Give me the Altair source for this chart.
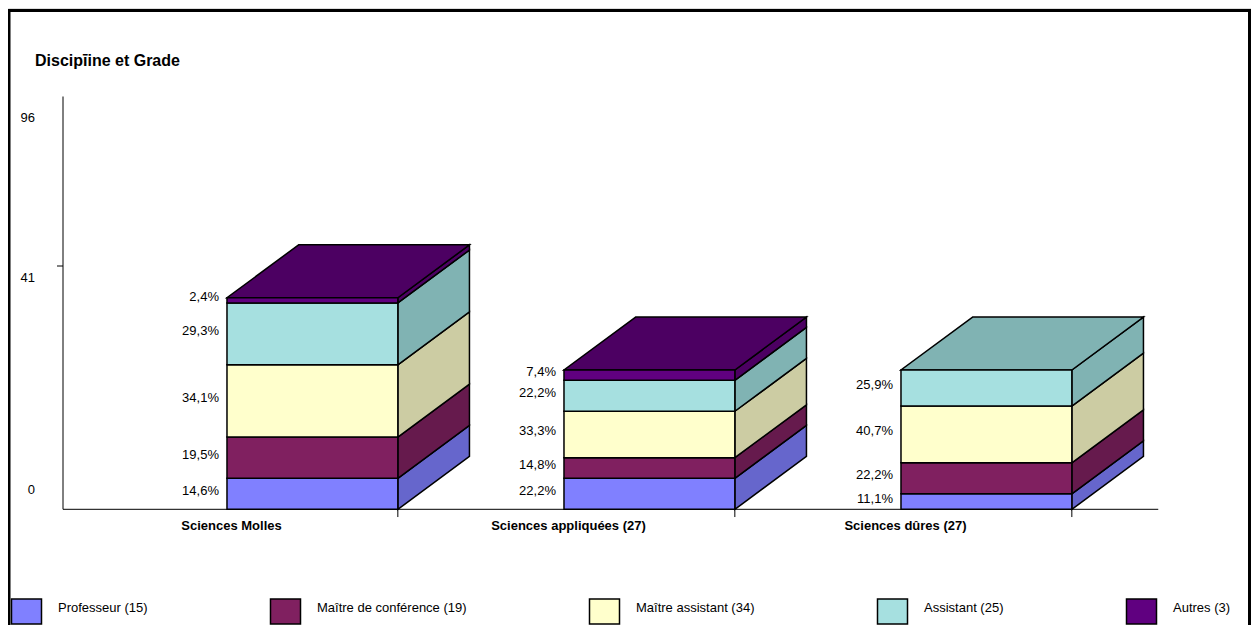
import altair as alt
import pandas as pd

# ---------------- data ----------------
categories = ["Sciences Molles", "Sciences appliquées (27)", "Sciences dûres (27)"]
legend_labels = ["Professeur (15)", "Maître de conférence (19)", "Maître assistant (34)",
                 "Assistant (25)", "Autres (3)"]

professeur = [6, 6, 3]
maitre_conf = [8, 4, 6]
maitre_assist = [14, 9, 11]
assistant = [12, 6, 7]
autres = [1, 2, 0]

pct_professeur = ["14,6%", "22,2%", "11,1%"]
pct_maitre_conf = ["19,5%", "14,8%", "22,2%"]
pct_maitre_assist = ["34,1%", "33,3%", "40,7%"]
pct_assistant = ["29,3%", "22,2%", "25,9%"]
pct_autres = ["2,4%", "7,4%", ""]

axis_labels = ["0", "41", "96"]
axis_values = [0, 41, 96]

title_text = "Discipīine et Grade"

# ---------------- style ----------------
front_colors = ["#8080FF", "#802060", "#FFFFCC", "#A6E0E0", "#600080"]
side_colors = ["#6666CC", "#661A4D", "#CCCCA3", "#80B3B3", "#4C0062"]
FONT = "Liberation Sans"

W, H = 1243, 617
# x in category units, y in counts
XS = alt.Scale(domain=[-55 / 337, (W - 55) / 337], nice=False, zero=False)
YS = alt.Scale(domain=[-(H - 501.3) / 5.16, 501.3 / 5.16], nice=False, zero=False)
BAR_X0, BAR_W = 0.4866, 0.507     # front face within a category
DX, DY = 0.2125, 10.25            # 3-D depth offset
AXIS_TOP = 80
BASE_END = 3.25

series = [professeur, maitre_conf, maitre_assist, assistant, autres]
pcts = [pct_professeur, pct_maitre_conf, pct_maitre_assist, pct_assistant, pct_autres]

front_rows, side_rows, top_rows, label_rows, cat_rows, tick_rows = [], [], [], [], [], []
for ci, cat in enumerate(categories):
    x0 = ci + BAR_X0
    x1 = x0 + BAR_W
    base = 0
    top_g = None
    for gi in range(len(series)):
        v = series[gi][ci]
        if v == 0:
            continue
        y0, y1 = base, base + v
        front_rows.append(dict(grade=legend_labels[gi], x0=x0, x1=x1, y0=y0, y1=y1))
        sid = f"s{ci}-{gi}"
        side_rows.append(dict(sid=sid, px=x1, lo=y0, hi=y1, col=side_colors[gi]))
        side_rows.append(dict(sid=sid, px=x1 + DX, lo=y0 + DY, hi=y1 + DY, col=side_colors[gi]))
        label_rows.append(dict(x=x0, y=(y0 + y1) / 2, text=pcts[gi][ci]))
        base = y1
        top_g = gi
    tid = f"t{ci}"
    top_rows.append(dict(tid=tid, py=base, xl=x0, xr=x1, col=side_colors[top_g]))
    top_rows.append(dict(tid=tid, py=base + DY, xl=x0 + DX, xr=x1 + DX, col=side_colors[top_g]))
    cat_rows.append(dict(x=ci + 0.5, y=0, text=cat))
    tick_rows.append(dict(x=x1, y=0, y2=-1.5))

front_df = pd.DataFrame(front_rows)
side_df = pd.DataFrame(side_rows)
top_df = pd.DataFrame(top_rows)
label_df = pd.DataFrame(label_rows)
cat_df = pd.DataFrame(cat_rows)
tick_df = pd.DataFrame(tick_rows)
axis_df = pd.DataFrame({"v": axis_values, "label": axis_labels})

sides = alt.Chart(side_df).mark_area(stroke="black", strokeWidth=1.5, orient="vertical",
                                     interpolate="linear", opacity=1).encode(
    x=alt.X("px:Q", scale=XS, axis=None),
    y=alt.Y("lo:Q", scale=YS, axis=None, stack=None),
    y2="hi:Q",
    fill=alt.Fill("col:N", scale=None),
    detail="sid:N",
)

tops = alt.Chart(top_df).mark_area(stroke="black", strokeWidth=1.5, orient="horizontal",
                                   interpolate="linear", opacity=1).encode(
    y=alt.Y("py:Q", scale=YS, axis=None),
    x=alt.X("xl:Q", scale=XS, axis=None, stack=None),
    x2="xr:Q",
    fill=alt.Fill("col:N", scale=None),
    detail="tid:N",
)

fronts = alt.Chart(front_df).mark_rect(stroke="black", strokeWidth=1.5).encode(
    x=alt.X("x0:Q", scale=XS, axis=None),
    x2="x1:Q",
    y=alt.Y("y0:Q", scale=YS, axis=None),
    y2="y1:Q",
    color=alt.Color(
        "grade:N",
        scale=alt.Scale(domain=legend_labels, range=front_colors),
        legend=alt.Legend(
            orient="none", legendX=5, legendY=590, direction="horizontal", columns=5,
            title=None, symbolType="M-1.2,-1H1.2V1H-1.2Z", symbolSize=625,
            symbolStrokeColor="black", symbolStrokeWidth=1.5, symbolOpacity=1,
            labelFont=FONT, labelFontSize=13, labelColor="black", labelOffset=18,
            labelBaseline="alphabetic", labelLimit=400, columnPadding=119,
        ),
    ),
)

labels = alt.Chart(label_df).mark_text(align="right", baseline="middle", dx=-8, dy=-3,
                                       font=FONT, fontSize=13, color="black").encode(
    x=alt.X("x:Q", scale=XS, axis=None),
    y=alt.Y("y:Q", scale=YS, axis=None),
    text="text:N",
)

cat_text = alt.Chart(cat_df).mark_text(align="center", baseline="middle", dy=17,
                                       font=FONT, fontSize=13, fontWeight="bold",
                                       color="black").encode(
    x=alt.X("x:Q", scale=XS, axis=None),
    y=alt.Y("y:Q", scale=YS, axis=None),
    text="text:N",
)

cat_ticks = alt.Chart(tick_df).mark_rule(color="black", strokeWidth=1).encode(
    x=alt.X("x:Q", scale=XS, axis=None),
    y=alt.Y("y:Q", scale=YS, axis=None),
    y2="y2:Q",
)

axis_line = alt.Chart(pd.DataFrame({"x": [0], "y": [0], "y2": [AXIS_TOP]})).mark_rule(
    color="black", strokeWidth=1).encode(
    x=alt.X("x:Q", scale=XS, axis=None),
    y=alt.Y("y:Q", scale=YS, axis=None),
    y2="y2:Q",
)

baseline = alt.Chart(pd.DataFrame({"x": [0], "x2": [BASE_END], "y": [0]})).mark_rule(
    color="black", strokeWidth=1).encode(
    x=alt.X("x:Q", scale=XS, axis=None),
    x2="x2:Q",
    y=alt.Y("y:Q", scale=YS, axis=None),
)

AS = alt.Scale(domain=[0, 41, 96], range=[482, 270, 110])
axis_text = alt.Chart(axis_df).mark_text(align="right", baseline="middle", font=FONT,
                                         fontSize=13, color="black").encode(
    x=alt.value(27),
    y=alt.Y("v:Q", scale=AS, axis=None),
    text="label:N",
)
axis_tick = alt.Chart(axis_df[axis_df.v == 41]).mark_rule(color="black", yOffset=-12).encode(
    x=alt.value(49), x2=alt.value(55),
    y=alt.Y("v:Q", scale=AS, axis=None),
)

title = alt.Chart(pd.DataFrame({"t": [title_text]})).mark_text(
    align="left", baseline="middle", font=FONT, fontSize=16, fontWeight="bold",
    color="black").encode(x=alt.value(27), y=alt.value(53), text="t:N")

frame_df = pd.DataFrame({"k": [0]})
border_left = alt.Chart(frame_df).mark_rule(color="black", strokeWidth=3).encode(
    x=alt.value(1), y=alt.value(1), y2=alt.value(H))
border_top = alt.Chart(frame_df).mark_rule(color="black", strokeWidth=3).encode(
    y=alt.value(2.5), x=alt.value(0), x2=alt.value(W))
border_right = alt.Chart(frame_df).mark_rule(color="black", strokeWidth=3).encode(
    x=alt.value(W - 1.5), y=alt.value(1), y2=alt.value(H))

chart = alt.layer(
    axis_line, baseline, cat_ticks, sides, tops, fronts, labels, cat_text,
    axis_text, axis_tick, title, border_left, border_top, border_right,
).resolve_scale(y="independent").properties(
    width=W, height=H,
    autosize=alt.AutoSizeParams(type="none"),
    padding={"left": 0, "top": 0, "right": 0, "bottom": 0},
).configure_view(stroke=None).configure(background="white")

chart.save("out.html", embed_options={"renderer": "svg", "actions": False})
